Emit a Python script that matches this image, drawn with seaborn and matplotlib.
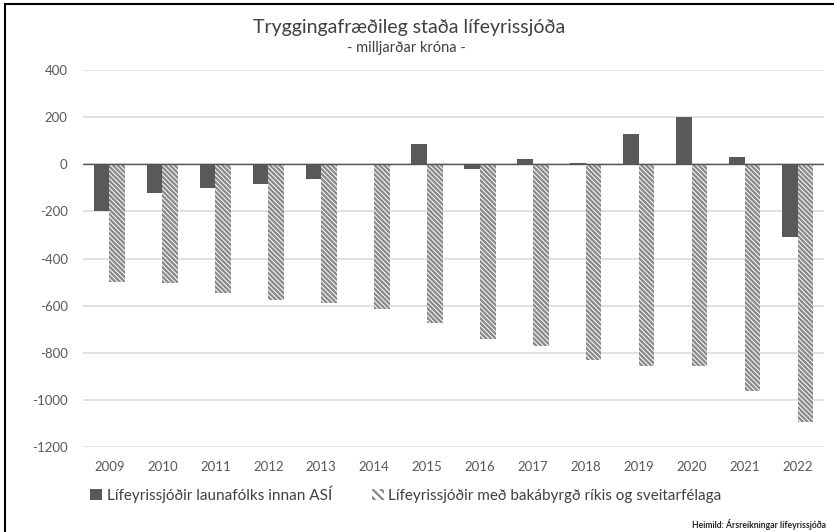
import numpy as np
import pandas as pd
import matplotlib
matplotlib.use("Agg")
import matplotlib.pyplot as plt
import seaborn as sns
from matplotlib.patches import Patch, Rectangle

years = [str(y) for y in range(2009, 2023)]
asi = [-198, -120, -102, -85, -64, 0, 86, -20, 24, 4, 127, 202, 30, -307]
opinber = [-498, -505, -547, -575, -589, -615, -672, -742, -771, -830, -855, -858, -961, -1094]

lbl_asi = "Lífeyrissjóðir launafólks innan ASÍ"
lbl_opinber = "Lífeyrissjóðir með bakábyrgð ríkis og sveitarfélaga"

df = pd.DataFrame({
    "ar": years * 2,
    "gildi": asi + opinber,
    "sjodur": [lbl_asi] * len(years) + [lbl_opinber] * len(years),
})

sns.set_style("white")
plt.rcParams["font.family"] = ["Lato", "DejaVu Sans"]
plt.rcParams["axes.unicode_minus"] = False
plt.rcParams["hatch.linewidth"] = 1.7

fig = plt.figure(figsize=(8.34, 5.32), dpi=100)
ax = fig.add_axes([83 / 834, 1 - 447 / 532, 741 / 834, 377 / 532])

dark = "#595959"
hatch_col = "#8a8a8a"
txt_col = "#595959"
hatch = "\\" * 7

sns.barplot(data=df, x="ar", y="gildi", hue="sjodur", ax=ax, width=0.59,
            palette=[dark, "white"], saturation=1, legend=False, zorder=3)

n = len(years)
for i, p in enumerate(ax.patches):
    if i >= n:
        p.set_hatch(hatch)
        p.set_edgecolor(hatch_col)
        p.set_facecolor("white")
        p.set_linewidth(0)
    else:
        p.set_linewidth(0)

ax.set_ylim(-1200, 400)
ax.set_xlim(-0.5, n - 0.5)
ax.set_yticks(range(-1200, 401, 200))
ax.yaxis.grid(True, color="#d9d9d9", lw=1.1, zorder=0)
ax.set_axisbelow(True)
ax.axhline(0, color="#555555", lw=1.0, zorder=4)
for s in ax.spines.values():
    s.set_visible(False)
ax.set_xlabel("")
ax.set_ylabel("")
ax.tick_params(axis="both", length=0, labelsize=9.5, colors=txt_col)
ax.tick_params(axis="y", pad=11)
ax.tick_params(axis="x", pad=10)

fig.text(0.491, 1 - 28 / 532, "Tryggingafræðileg staða lífeyrissjóða",
         ha="center", va="center", fontsize=14, color="#404040")
fig.text(0.487, 1 - 48 / 532, "- milljarðar króna -",
         ha="center", va="center", fontsize=10.5, color="#404040")

handles = [Patch(facecolor=dark, edgecolor=dark, lw=0),
           Patch(facecolor="white", edgecolor=hatch_col, hatch="\\" * 4, lw=0)]
fig.legend(handles, [lbl_asi, lbl_opinber], loc="center left",
           bbox_to_anchor=(76 / 834, 1 - 494 / 532), ncol=2, frameon=False,
           fontsize=11, handlelength=0.8, handleheight=0.8, handletextpad=0.3,
           columnspacing=2.6, labelcolor="#404040")

fig.text(826 / 834, 1 - 525 / 532, "Heimild: Ársreikningar lífeyrissjóða",
         ha="right", va="center", fontsize=6.2, fontweight="bold", color="#262626")

# ramminn efst og til vinstri
fig.add_artist(Rectangle((5 / 834, -0.1), 1.2, 1 - 4 / 532 + 0.1,
                         transform=fig.transFigure, fill=False,
                         edgecolor="black", lw=1.5))

fig.savefig("out.png", dpi=100)
